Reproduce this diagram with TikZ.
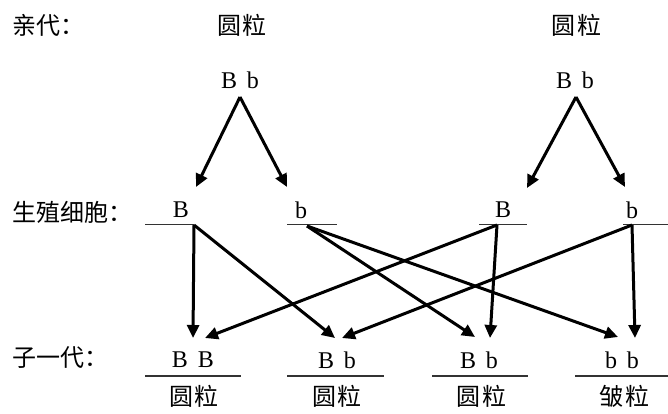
\documentclass[tikz,border=0pt]{standalone}
\usepackage{fontspec}
\setmainfont{Liberation Serif}
\newfontfamily\cjk{Noto Sans CJK SC}
\usetikzlibrary{arrows.meta}
\begin{document}
\begin{tikzpicture}[x=1pt,y=-1pt,
  cjktxt/.style={font=\cjk\fontsize{24}{28}\selectfont, inner sep=0pt},
  gen/.style={font=\fontsize{24}{28}\selectfont, inner sep=0pt},
  arr/.style={line width=3pt, -{Triangle[length=13pt,width=12pt]}},
  uline/.style={line width=1.4pt, draw=black!80}]
\useasboundingbox (0,0) rectangle (668,414);
% row labels
\node[cjktxt, anchor=west] (lp) at (12,25) {亲代：};
\node[cjktxt, anchor=west] (lg) at (12,212) {生殖细胞：};
\node[cjktxt, anchor=west] (lo) at (12,358) {子一代：};
% parents
\node[cjktxt] (p1t) at (242,25) {圆\kern2pt粒};
\node[cjktxt] (p2t) at (576,25) {圆\kern2pt粒};
\node[gen] (p1) at (240,80) {B\kern10pt b};
\node[gen] (p2) at (575,80) {B\kern10pt b};
\coordinate (a1) at (240,97);
\coordinate (a2) at (576,97);
% gametes
\node[gen] (gB1) at (181,210) {B};
\node[gen] (gb1) at (301,210) {b};
\node[gen] (gB2) at (503,210) {B};
\node[gen] (gb2) at (632,210) {b};
\coordinate (gB1t) at (196,187);
\coordinate (gb1t) at (287,187);
\coordinate (gB2t) at (527,188);
\coordinate (gb2t) at (625,187);
\draw[uline] (145,224.5) coordinate (u1a) -- (194,224.5) coordinate (u1b);
\draw[uline] (287,224.5) coordinate (u2a) -- (337,224.5) coordinate (u2b);
\draw[uline] (479,224.5) coordinate (u3a) -- (527,224.5) coordinate (u3b);
\draw[uline] (623,224.5) coordinate (u4a) -- (668,224.5) coordinate (u4b);
\coordinate (sB1) at (194,225);
\coordinate (sb1) at (307,226);
\coordinate (sB2) at (497,225);
\coordinate (sb2) at (632,225);
% offspring
\node[gen] (o1) at (193,360) {B\kern10pt B};
\node[gen] (o2) at (337,360) {B\kern10pt b};
\node[gen] (o3) at (479,360) {B\kern10pt b};
\node[gen] (o4) at (622,360) {b\kern10pt b};
\draw[uline] (145,376) coordinate (v1a) -- (241,376) coordinate (v1b);
\draw[uline] (287,376) coordinate (v2a) -- (384,376) coordinate (v2b);
\draw[uline] (432,376) coordinate (v3a) -- (528,376) coordinate (v3b);
\draw[uline] (575,376) coordinate (v4a) -- (668,376) coordinate (v4b);
\node[cjktxt] (f1) at (194,396) {圆\kern2pt粒};
\node[cjktxt] (f2) at (337,396) {圆\kern2pt粒};
\node[cjktxt] (f3) at (481,396) {圆\kern2pt粒};
\node[cjktxt] (f4) at (624,396) {皱\kern2pt粒};
\coordinate (t1a) at (193,338);
\coordinate (t1b) at (205,338);
\coordinate (t2a) at (335,338);
\coordinate (t2b) at (342,338);
\coordinate (t3a) at (475,337);
\coordinate (t3b) at (490,338);
\coordinate (t4a) at (618,337);
\coordinate (t4b) at (635,338);
% arrows parents -> gametes
\draw[arr] (a1) -- (gB1t);
\draw[arr] (a1) -- (gb1t);
\draw[arr] (a2) -- (gB2t);
\draw[arr] (a2) -- (gb2t);
% arrows gametes -> offspring
\draw[arr] (sB1) -- (t1a);
\draw[arr] (sB1) -- (t2a);
\draw[arr] (sb1) -- (t3a);
\draw[arr] (sb1) -- (t4a);
\draw[arr] (sB2) -- (t1b);
\draw[arr] (sB2) -- (t3b);
\draw[arr] (sb2) -- (t2b);
\draw[arr] (sb2) -- (t4b);
\end{tikzpicture}
\end{document}
